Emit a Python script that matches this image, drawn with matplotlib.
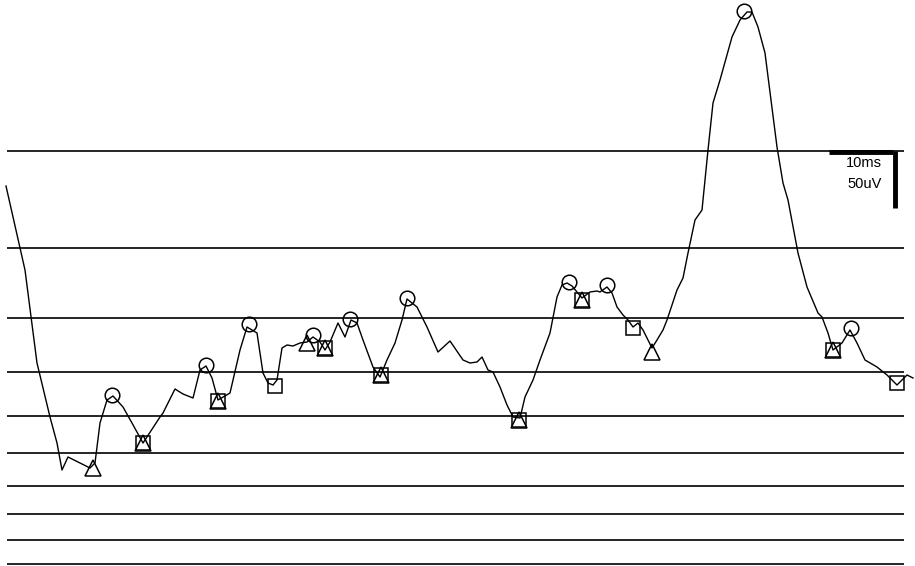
import matplotlib.pyplot as plt

# trace (x: sample position, y: level, screen-down)
trace_x = [6, 25, 37, 50, 57, 62, 68, 90, 95, 100, 107, 113, 123, 132, 143, 160, 163, 175, 183, 193,
           200, 206, 212, 218, 230, 240, 247, 257, 263, 268, 273, 277, 282, 287, 293, 300, 307, 313, 320, 325,
           330, 338, 345, 351, 357, 363, 373, 380, 387, 395, 402, 407, 417, 427, 438, 450, 463, 470, 477, 482,
           488, 493, 500, 507, 513, 520, 525, 533, 540, 550, 557, 562, 567, 572, 582, 590, 597, 600, 607, 612,
           617, 623, 628, 633, 638, 643, 648, 652, 657, 663, 667, 677, 683, 688, 695, 702, 708, 713, 720, 732,
           740, 747, 752, 758, 765, 777, 783, 788, 798, 807, 818, 822, 828, 833, 842, 850, 857, 865, 877, 887,
           897, 907, 913]
trace_y = [186, 270, 363, 417, 443, 470, 457, 468, 463, 423, 400, 396, 407, 423, 443, 417, 413, 389, 394, 398,
           370, 366, 378, 400, 393, 350, 327, 333, 373, 383, 385, 380, 348, 345, 346, 343, 342, 337, 342, 350,
           342, 323, 337, 320, 323, 340, 367, 377, 360, 343, 320, 299, 307, 327, 352, 341, 360, 363, 362, 357,
           370, 372, 387, 405, 417, 418, 397, 380, 360, 333, 297, 285, 283, 286, 298, 292, 291, 292, 287, 293,
           307, 315, 320, 327, 323, 330, 340, 348, 340, 330, 320, 290, 278, 253, 220, 210, 150, 103, 80, 37,
           20, 12, 12, 27, 53, 147, 183, 200, 253, 287, 313, 317, 333, 350, 343, 330, 343, 360, 367, 375,
           385, 375, 378]

# reference levels
levels = [151, 248, 318, 372, 416, 453, 486, 514, 540, 564]

# annotated points
peak_x = [112, 206, 249, 313, 350, 407, 569, 607, 744, 851]
peak_y = [395, 365, 324, 335, 319, 298, 282, 285, 11, 328]
trough_x = [93, 143, 218, 307, 325, 381, 519, 582, 652, 833]
trough_y = [468, 443, 401, 343, 348, 375, 420, 300, 352, 350]
box_x = [143, 218, 275, 325, 381, 519, 582, 633, 833, 897]
box_y = [443, 401, 386, 348, 375, 420, 300, 328, 350, 383]

fig = plt.figure(figsize=(9.15, 5.66), dpi=100)
ax = fig.add_axes([0, 0, 1, 1])
ax.set_xlim(0, 915)
ax.set_ylim(566, 0)
ax.axis('off')

ax.hlines(levels, 7, 904, color='black', lw=1.2)
ax.plot(trace_x, trace_y, color='black', lw=1.0)

mk = dict(ls='none', mfc='none', mec='black', mew=1.1)
ax.plot(peak_x, peak_y, marker='o', ms=10.5, **mk)
ax.plot(trough_x, trough_y, marker='^', ms=12, **mk)
ax.plot(box_x, box_y, marker='s', ms=10.5, **mk)

# scale bar
ax.plot([829, 893], [152, 152], color='black', lw=3.5, solid_capstyle='butt')
ax.plot([895, 895], [151, 208], color='black', lw=3.5, solid_capstyle='butt')
ax.text(882, 163, '10ms', ha='right', va='center', fontsize=10.5, family='Liberation Sans')
ax.text(882, 184, '50uV', ha='right', va='center', fontsize=10.5, family='Liberation Sans')

fig.savefig('out.png', dpi=100)
